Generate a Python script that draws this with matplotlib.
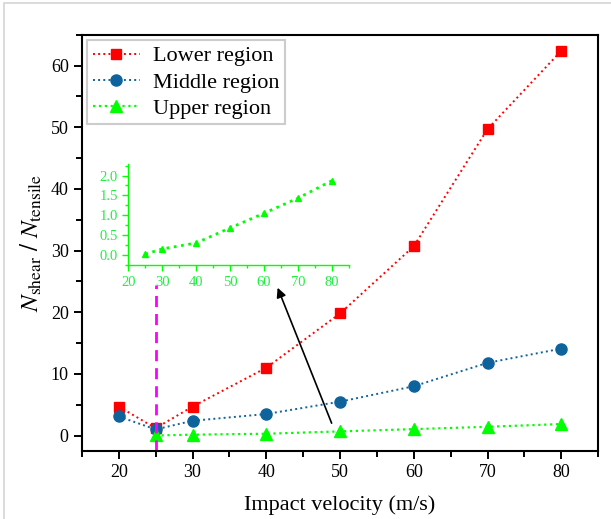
import matplotlib
matplotlib.use("Agg")
import matplotlib.pyplot as plt
from matplotlib.ticker import MultipleLocator
from matplotlib.patches import Rectangle

# Impact velocities (m/s) and shear/tensile count ratios per region
velocity = [20, 25, 30, 40, 50, 60, 70, 80]
lower_ratio = [4.7, 1.2, 4.7, 11.0, 19.8, 30.7, 49.7, 62.4]
middle_ratio = [3.1, 1.0, 2.4, 3.5, 5.5, 8.0, 11.8, 14.1]
upper_velocity = [25, 30, 40, 50, 60, 70, 80]
upper_ratio = [0.02, 0.15, 0.30, 0.68, 1.05, 1.43, 1.87]

RED = "#ff0000"
BLUE = "#0f639c"
GREEN = "#00ff00"

plt.rcParams["font.family"] = ["Liberation Serif", "DejaVu Serif"]
plt.rcParams["mathtext.fontset"] = "stix"


def main():
    fig = plt.figure(figsize=(6.11, 5.19), dpi=100)
    # thin grey frame round the figure
    fig.patches.append(Rectangle((4 / 611, -0.1), 1.1, 1.1 - 3 / 519,
                                 transform=fig.transFigure, fill=False,
                                 edgecolor="#d4d4d4", linewidth=1.2))

    ax = fig.add_axes([0.134, 0.131, 0.845, 0.802])
    ax.plot(velocity, lower_ratio, ls=":", lw=1.4, color=RED,
            marker="s", ms=7.5, label="Lower region")
    ax.plot(velocity, middle_ratio, ls=":", lw=1.4, color=BLUE,
            marker="o", ms=8, label="Middle region")
    ax.plot(upper_velocity, upper_ratio, ls=":", lw=1.6, color=GREEN,
            marker="^", ms=9, label="Upper region")

    ax.set_xlim(15, 85)
    ax.set_ylim(-2.5, 65)
    ax.xaxis.set_major_locator(MultipleLocator(10))
    ax.xaxis.set_minor_locator(MultipleLocator(5))
    ax.yaxis.set_major_locator(MultipleLocator(10))
    ax.yaxis.set_minor_locator(MultipleLocator(5))
    ax.tick_params(which="both", direction="out", width=1.4,
                   labelsize=13, top=False, right=False)
    ax.tick_params(which="major", length=6)
    ax.tick_params(which="minor", length=4)
    for sp in ax.spines.values():
        sp.set_linewidth(1.5)

    ax.set_xlabel("Impact velocity (m/s)", fontsize=16, labelpad=10)
    ax.set_ylabel(r"$N_{\mathrm{shear}}\ /\ N_{\mathrm{tensile}}$",
                  fontsize=18, labelpad=5)

    leg = ax.legend(loc="upper left", fontsize=16, frameon=True,
                    fancybox=False, borderaxespad=0.25, handlelength=2.1,
                    labelspacing=0.25, borderpad=0.25, handletextpad=0.6)
    leg.get_frame().set_edgecolor("#c0c0c0")
    leg.get_frame().set_linewidth(1.5)

    # marker for the 25 m/s case and the pointer to the zoomed view
    ax.plot([25, 25], [-2.5, 24.5], ls=(0, (4, 2.5)), lw=2, color="#ff00ff")
    ax.annotate("", xy=(41.4, 24.4), xytext=(49.0, 1.6),
                arrowprops=dict(arrowstyle="-|>", color="black", lw=1.2,
                                mutation_scale=14))

    # zoomed view of the upper region
    ins = fig.add_axes([0.210, 0.489, 0.361, 0.195])
    ins.plot(upper_velocity, upper_ratio, ls=":", lw=2, color=GREEN,
             marker="^", ms=5)
    ins.set_xlim(20, 85)
    ins.set_ylim(-0.26, 2.29)
    ins.xaxis.set_major_locator(MultipleLocator(10))
    ins.xaxis.set_minor_locator(MultipleLocator(5))
    ins.yaxis.set_minor_locator(MultipleLocator(0.25))
    ins.set_yticks([0, 0.5, 1.0, 1.5, 2.0])
    ins.set_yticklabels(["0.0", "0.5", "1.0", "1.5", "2.0"])
    ins.spines["top"].set_visible(False)
    ins.spines["right"].set_visible(False)
    for side in ("left", "bottom"):
        ins.spines[side].set_color(GREEN)
        ins.spines[side].set_linewidth(1)
    ins.tick_params(which="both", direction="out", color=GREEN,
                    labelcolor="#22ee44", labelsize=10.5, width=1)
    ins.tick_params(which="major", length=4)
    ins.tick_params(which="minor", length=2)
    ins.patch.set_alpha(0)

    plt.savefig("out.png", dpi=100)
    plt.close(fig)


if __name__ == "__main__":
    main()
